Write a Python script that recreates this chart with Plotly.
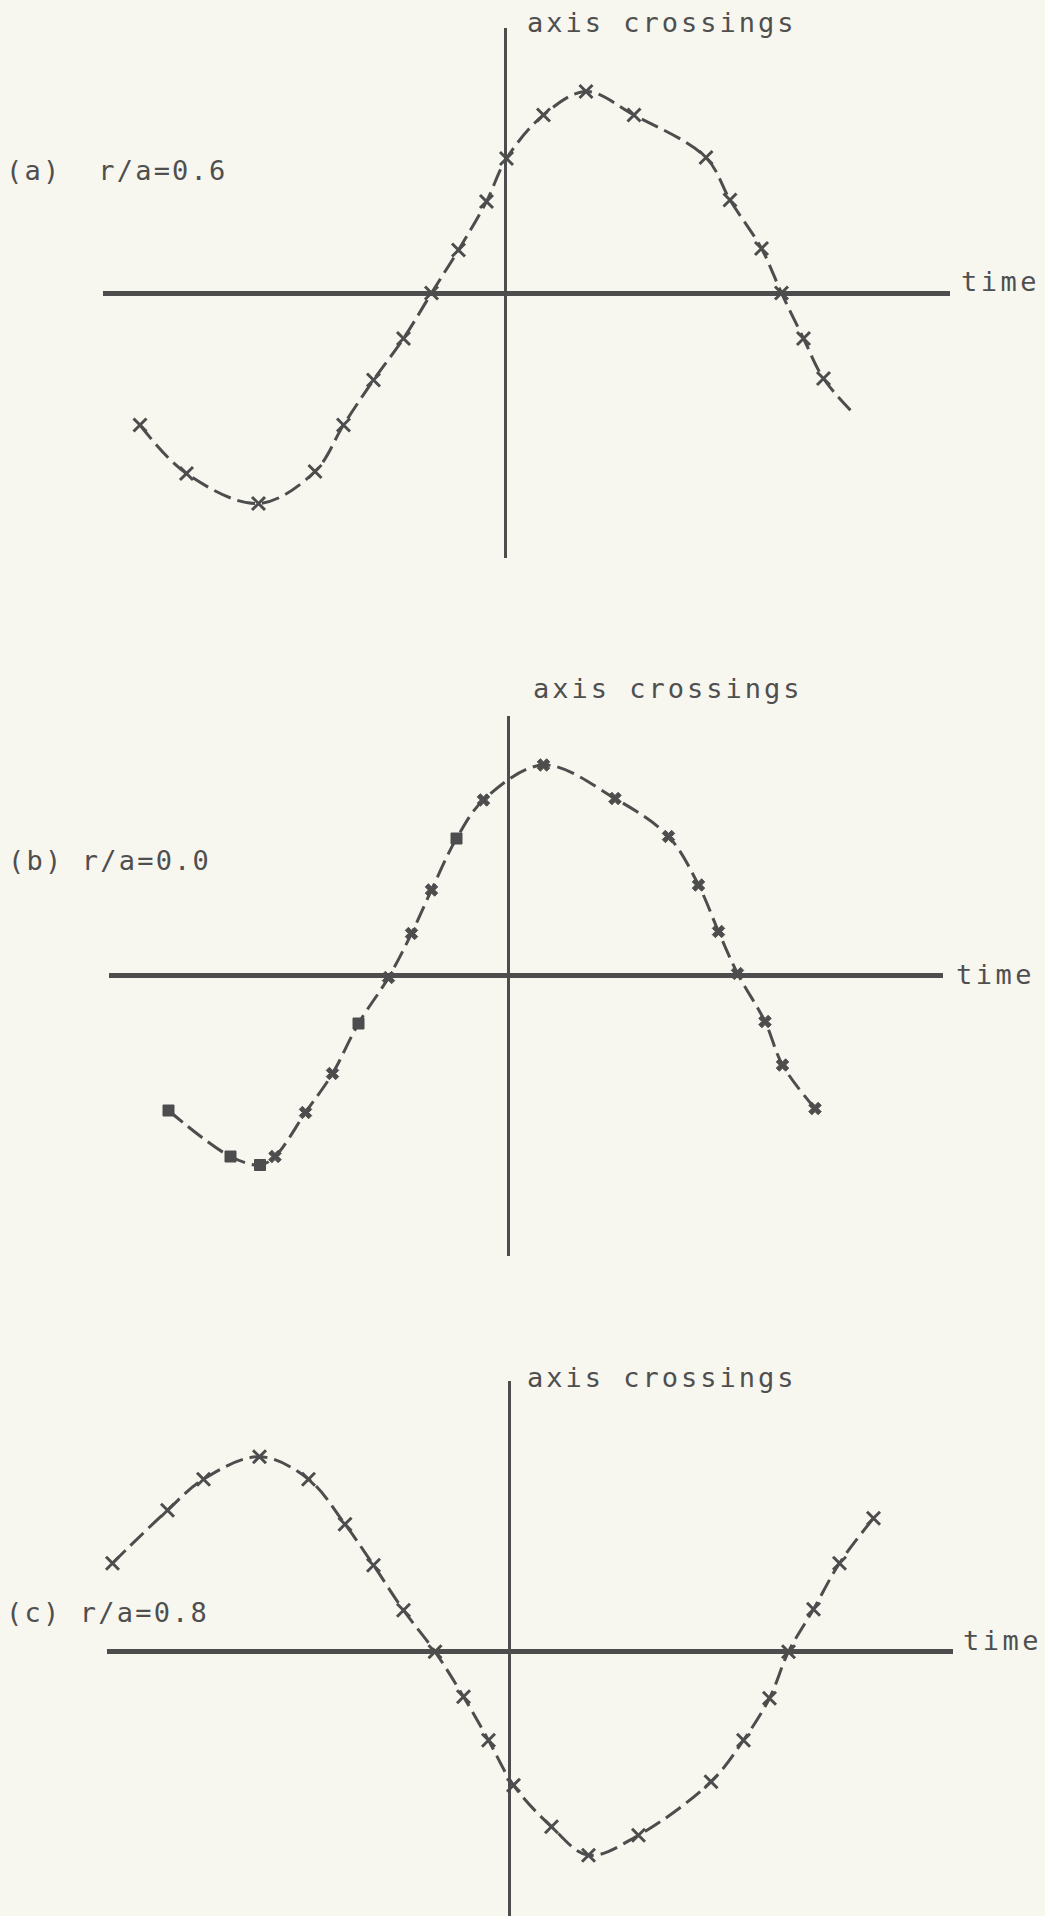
import plotly.graph_objects as go

W, H = 1045, 1916
PX_PER_UNIT = 50.0  # screen pixels per data unit, both directions

INK = "#4d4d4d"
TEXT = "#4f4f4f"
PAPER = "#f7f7f0"
FONT = "DejaVu Sans Mono"

# ---- (a) r/a = 0.6 -------------------------------------------------------
a_time = [-7.30, -6.37, -4.93, -3.80, -3.23, -2.63, -2.03, -1.47, -0.93, -0.37,
          0.03, 0.77, 1.62, 2.58, 4.02, 4.50, 5.13, 5.53, 5.97, 6.37]
a_val = [-2.64, -3.61, -4.21, -3.57, -2.64, -1.74, -0.91, 0.00, 0.86, 1.83,
         2.69, 3.56, 4.03, 3.56, 2.71, 1.86, 0.89, 0.00, -0.91, -1.71]
a_tail_time = [6.97]
a_tail_val = [-2.41]

# ---- (b) r/a = 0.0 -------------------------------------------------------
b_time = [-6.79, -5.55, -4.96, -4.66, -4.05, -3.51, -2.99, -2.39, -1.93, -1.53,
          -1.03, -0.49, 0.71, 2.14, 3.21, 3.81, 4.21, 4.59, 5.14, 5.49, 6.14]
b_val = [-2.71, -3.63, -3.80, -3.63, -2.75, -1.97, -0.97, -0.05, 0.83, 1.70,
         2.73, 3.50, 4.20, 3.53, 2.77, 1.80, 0.87, 0.03, -0.93, -1.80, -2.67]

# ---- (c) r/a = 0.8 -------------------------------------------------------
c_time = [-7.93, -6.83, -6.11, -4.99, -4.01, -3.28, -2.71, -2.11, -1.48, -0.91,
          -0.41, 0.09, 0.85, 1.59, 2.59, 4.04, 4.69, 5.21, 5.59, 6.09, 6.61, 7.29]
c_val = [1.77, 2.83, 3.45, 3.90, 3.45, 2.55, 1.73, 0.83, 0.00, -0.90,
         -1.77, -2.67, -3.50, -4.07, -3.67, -2.60, -1.77, -0.93, 0.00, 0.85, 1.77, 2.67]

panel_labels = ["(a)  r/a=0.6", "(b) r/a=0.0", "(c) r/a=0.8"]
vertical_title = "axis crossings"
horizontal_title = "time"

# the plotted points of (b) are heavier blots, some of them square
b_symbols = ["square", "square", "square", "x", "x", "x", "square", "x", "x", "x",
             "square", "x", "x", "x", "x", "x", "x", "x", "x", "x", "x"]

# frame geometry of each panel in screen pixels
frames = [
    dict(xpx=(103, 950), x0=505, ypx=(28, 558), y0=293,
         title_xy=(525, 22), label_xy=(4, 171), time_xy=(959, 282)),
    dict(xpx=(109, 943), x0=508, ypx=(716, 1256), y0=975,
         title_xy=(531, 688), label_xy=(6, 861), time_xy=(954, 974)),
    dict(xpx=(107, 953), x0=509, ypx=(1381, 1916), y0=1651.7,
         title_xy=(525, 1377), label_xy=(4, 1612), time_xy=(961, 1640)),
]

series = [
    dict(t=a_time, v=a_val, lt=a_time + a_tail_time, lv=a_val + a_tail_val,
         symbols="x-thin", size=13),
    dict(t=b_time, v=b_val, lt=b_time, lv=b_val, symbols=b_symbols, size=11),
    dict(t=c_time, v=c_val, lt=c_time, lv=c_val, symbols="x-thin", size=13),
]

fig = go.Figure()
layout = {}
annotations = []


def spaced(text, px):
    return f'<span style="letter-spacing:{px}px">{text}</span>'


for i, (fr, s) in enumerate(zip(frames, series), start=1):
    xa = "x" if i == 1 else f"x{i}"
    ya = "y" if i == 1 else f"y{i}"
    fig.add_trace(go.Scatter(
        x=s["lt"], y=s["lv"], mode="lines", xaxis=xa, yaxis=ya,
        line=dict(color=INK, width=3, dash="18px,7px", shape="spline", smoothing=1.0),
        hoverinfo="skip", showlegend=False, cliponaxis=False))
    if s["symbols"] == "x-thin":
        marker = dict(symbol="x-thin", size=s["size"], color=INK,
                      line=dict(color=INK, width=3))
    else:
        marker = dict(symbol=s["symbols"], size=s["size"], color=INK,
                      line=dict(color=INK, width=1))
    fig.add_trace(go.Scatter(
        x=s["t"], y=s["v"], mode="markers", xaxis=xa, yaxis=ya,
        marker=marker, showlegend=False, cliponaxis=False))

    x_lo, x_hi = fr["xpx"]
    y_top, y_bot = fr["ypx"]
    xr = [(x_lo - fr["x0"]) / PX_PER_UNIT, (x_hi - fr["x0"]) / PX_PER_UNIT]
    yr = [(fr["y0"] - y_bot) / PX_PER_UNIT, (fr["y0"] - y_top) / PX_PER_UNIT]
    common = dict(showgrid=False, showticklabels=False, ticks="", showline=False,
                  zeroline=True, zerolinecolor=INK, fixedrange=True)
    xkey = "xaxis" if i == 1 else f"xaxis{i}"
    ykey = "yaxis" if i == 1 else f"yaxis{i}"
    layout[xkey] = dict(common, range=xr, domain=[x_lo / W, x_hi / W],
                        anchor=ya, zerolinewidth=2.6)
    layout[ykey] = dict(common, range=yr, domain=[1 - y_bot / H, 1 - y_top / H],
                        anchor=xa, zerolinewidth=4.5)

    for (px, py), txt, ls in [(fr["title_xy"], vertical_title, 3),
                              (fr["label_xy"], panel_labels[i - 1], 2.2),
                              (fr["time_xy"], horizontal_title, 3.5)]:
        annotations.append(dict(
            x=px / W, y=1 - py / H, xref="paper", yref="paper",
            xanchor="left", yanchor="middle", showarrow=False,
            text=spaced(txt, ls), font=dict(family=FONT, size=27, color=TEXT)))

fig.update_layout(
    width=W, height=H, margin=dict(l=0, r=0, t=0, b=0),
    paper_bgcolor=PAPER, plot_bgcolor=PAPER,
    annotations=annotations, showlegend=False, **layout)

fig.write_html("out.html", config={"displayModeBar": False})
